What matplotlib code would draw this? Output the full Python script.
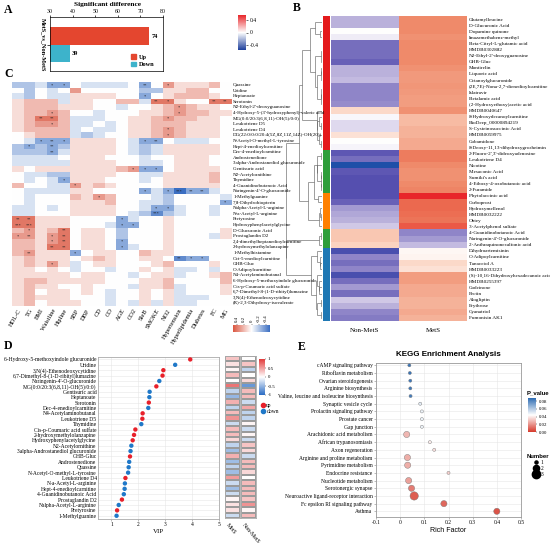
import numpy as np
import matplotlib
matplotlib.use("Agg")
import matplotlib.pyplot as plt
from matplotlib.colors import LinearSegmentedColormap, ListedColormap, Normalize
from matplotlib.cm import ScalarMappable
from matplotlib.lines import Line2D
from matplotlib.patches import Patch
from matplotlib.collections import LineCollection

SERIF = ['Liberation Serif', 'DejaVu Serif']
SANS = ['Liberation Sans', 'DejaVu Sans']
plt.rcParams['font.family'] = SERIF

# ---------------- data ----------------
# Panel A
a_groups = ['Up', 'Down']
a_counts = [74, 39]
a_colors = ['#E4462F', '#3DB3CB']

# Panel B
b_names = ['Glutamylleucine', 'D-Glucuronic Acid', 'Dopamine quinone', 'Imazamethabenz-methyl',
           'Beta-Citryl-L-glutamic acid', 'HMDB0302882', "N2-Ethyl-2'-deoxyguanosine", 'GHB-Gluc',
           'Montirelin', 'Liquoric acid', 'Octanoylglucuronide', '(2E,7E)-Nona-2,7-dienedioylcarnitine',
           'Islatravir', 'Betalamic acid', '(2-Hydroxyethoxy)acetic acid', 'HMDB0040647',
           '8-Hydroxydecanoylcarnitine', 'BioDeep_00000894219', 'S-Cysteinosuccinic Acid', 'HMDB0059975',
           'Cobamidone', '8-Deoxy-11,13-dihydroxygrosheimin', "2-Fluoro-2',3'-dideoxyadenosine",
           'Leukotriene D4', 'Nicotine', 'Mesaconic Acid', "Sumiki's acid", '4-Ethoxy-4-oxobutanoic acid',
           '2-Furamide', 'Phytolaccinic acid', 'Carboprost', 'Hydroxymellenol', 'HMDB0032222', 'Obtey',
           '3-Acetylphenol sulfate', '4-Guanidinobutanoic Acid', "Naringenin-4'-O-glucuronide",
           '2-Anthraquinonesulfonic acid', 'Dihydroartemisinin', 'O-Adipoylcarnitine', 'Tanacetol A',
           'HMDB0033223', '(S)-10,16-Dihydroxyhexadecanoic acid', 'HMDB0255397', 'Codeinone', 'Pectin',
           'Alogliptin', 'Erythrose', 'Cyanatriol', 'Fumonisin AK1']
b_nonmets = [-0.2, -0.2, 0.0, -0.05, -0.35, -0.35, -0.35, -0.38, -0.2, -0.2,
             -0.18, -0.3, -0.3, -0.3, -0.28, 0.1, -0.02, -0.1, -0.1, 0.08,
             0.0, -0.03, -0.4, -0.35, -0.55, -0.4, -0.42, -0.42, -0.42, -0.42,
             -0.38, -0.25, -0.22, -0.2, -0.15, 0.15, 0.15, 0.12, -0.45, -0.3,
             -0.35, -0.3, -0.45, -0.35, -0.25, -0.35, -0.15, -0.2, -0.3, -0.32]
b_mets = [0.3, 0.3, 0.3, 0.28, 0.3, 0.3, 0.3, 0.3, 0.28, 0.26,
          0.26, 0.27, 0.26, 0.25, 0.25, 0.28, 0.18, 0.18, 0.2, 0.2,
          0.22, 0.22, 0.35, 0.35, 0.3, 0.28, 0.28, 0.3, 0.32, 0.55,
          0.42, 0.42, 0.4, 0.38, 0.45, -0.3, -0.25, -0.18, 0.02, 0.03,
          0.1, 0.08, 0.25, 0.25, 0.22, 0.22, 0.2, 0.2, 0.22, 0.2]
b_columns = ['Non-MetS', 'MetS']
b_group_sizes = [22, 7, 6, 3, 12]
b_group_colors = ['#E41A1C', '#2E9E3A', '#FF8000', '#2E9E3A', '#1F78B4']
b_ticks = [-0.4, 0, 0.4]

# Panel C
c_cols = ['HDL-C', 'TG', 'BMI', 'Waistline', 'Hipline', 'SBP', 'DBP', 'CD', 'CO', 'AGE', 'CO2',
          'SleB', 'SMOKE', 'NO2', 'Hypertension', 'Hyperlipidemia', 'Diabetes', 'FC', 'MG']
c_rows = ['Quassine', 'Uridine', 'Heptanoate', 'Serotonin', "N2-Ethyl-2'-deoxyguanosine",
          "4-Hydroxy-5-(3'-hydroxyphenyl)-valeric acid", 'MG(0:0/20:3(6,8,11)-OH(5)/0:0)',
          'Leukotriene D5', 'Leukotriene D4', 'DG(22:0/0:0/20:4(5Z,8Z,11Z,14Z)-OH(20))',
          'N-Acetyl-O-methyl-L-tyrosine', 'Hept-4-enedioylcarnitine', 'Dec-4-enedioylcarnitine',
          'Androstenedione', '3alpha-Androstanediol glucuronide', 'Gentisuric acid',
          'N2-Acetylornithine', 'Thymidine', '4-Guanidinobutanoic Acid', "Naringenin-4'-O-glucuronide",
          '1-Methylguanine', '7,8-Dihydrobiopterin', 'Nalpha-Acetyl-L-arginine', 'N-a-Acetyl-L-arginine',
          'Pretyrosine', 'Hydroxyphenylacetylglycine', 'D-Glucuronic Acid', 'Prostaglandin D2',
          '2,4-dimethylheptanedioylcarnitine', '2-hydroxymethylolanzapine', '1-Methylhistamine',
          'Oct-5-enedioylcarnitine', 'GHB-Gluc', 'O-Adipoylcarnitine', 'N4-Acetylaminobutanal',
          '6-Hydroxy-5-methoxyindole glucuronide', 'Cis-p-Coumaric acid sulfate',
          '6,7-Dimethyl-8-(1-D-ribityl)lumazine', '3,N(4)-Ethenodeoxycytidine',
          '(R)-2,3-Dihydroxy-isovalerate']
c_tenths = [
    [-2, -2, -1, -3, -3, 0, -1, -1, -1, -1, 0, -3, 0, 3, 1, 1, 1, 2, 0],
    [0, -2, 0, -1, 0, 3, 0, 0, 0, 0, 0, -2, -2, 1, 1, 2, 2, 0, 0],
    [-1, -2, 0, -1, -1, 1, 1, 1, 1, 0, 0, -3, 0, 1, 2, 2, 2, 1, 0],
    [1, 2, 2, 2, -1, 1, 1, 0, 0, 2, 2, -1, 4, 4, 1, 0, 0, 4, 4],
    [1, 2, 2, 2, 1, 1, 1, 0, 0, -1, 0, 0, 1, 2, 3, 2, 1, 1, 0],
    [1, 2, 2, 3, 2, 0, 0, -1, 0, 0, 0, 1, 1, 2, 3, 2, 2, 1, 1],
    [1, 2, 4, 4, 2, -1, -1, -1, 0, 0, 1, 1, 2, 3, 2, 2, 1, 1, 0],
    [1, 2, 3, 3, 2, -1, -1, 0, -1, 0, 1, 1, 2, 2, 2, 1, 1, 1, 0],
    [1, 2, 2, 2, 2, -1, 0, -1, -1, 0, 1, 1, 2, 3, 2, 1, 1, 1, 0],
    [0, 1, 2, 2, 2, -1, -2, -1, 0, 0, 1, 1, 2, 3, 2, 1, 1, 1, 0],
    [0, -1, -3, -3, -3, 1, 1, 1, 1, 0, -1, -3, -3, 0, -1, -1, -1, 0, 0],
    [-2, -3, -2, -3, -2, 1, 1, 1, 1, 0, -1, -2, -1, 1, 1, 1, 1, 1, 0],
    [-2, -2, -2, -3, -1, 1, 1, 1, 1, 0, -1, -2, -1, 1, 1, 1, 1, 1, 0],
    [-1, -1, -1, -1, 0, 1, 1, 1, 0, 0, 0, -1, 0, 0, 1, 1, 1, 0, 0],
    [-1, -1, -1, -1, -1, 1, 1, 1, 1, 0, 0, -1, -1, 0, 1, 1, 1, 0, 0],
    [1, 0, 1, 1, 1, 1, 1, 1, 1, 2, 3, -3, -3, 0, 1, 1, 1, 1, 0],
    [0, -1, -1, -2, -2, 1, 1, 1, 1, 0, 0, -1, -1, 1, 1, 1, 1, 2, 0],
    [0, -1, 0, -1, -3, 1, 1, 1, 0, 0, 0, -1, 0, 1, 1, 1, 1, 2, 0],
    [2, 0, 0, -1, -1, 3, 1, 2, 1, 0, 0, 0, 0, 1, 1, 1, 1, 1, 0],
    [0, -1, -1, -1, -1, 1, 1, 0, 0, 0, 0, -3, -1, -3, -5, -3, -3, -1, 0],
    [0, -1, 0, 0, 0, 2, 1, 3, 2, 0, 0, 0, -1, -2, 0, 0, 0, 0, -1],
    [0, -1, 0, 0, 0, 1, 1, 1, 2, 0, 0, -1, -1, -2, 0, 0, 0, 0, -3],
    [-1, -1, 0, -1, 0, 1, 1, 1, 1, 0, 0, -1, -3, -3, -1, 0, 0, -1, 0],
    [-1, -1, 0, 0, 0, 1, 1, 1, 1, 0, -1, -2, -4, -2, -1, 0, 0, -1, 0],
    [4, 4, 1, 1, 1, 0, 0, 0, 0, -3, -1, 0, 0, 1, 0, 0, 0, 0, 0],
    [4, 4, 1, 1, 1, 0, 0, 0, -1, -3, -3, 0, 0, 1, 0, 0, 0, 0, 0],
    [2, 3, 1, 2, 4, 0, 1, 1, 0, -2, 0, 0, 0, 1, 0, 0, 0, 0, 1],
    [3, 3, 1, 3, 4, 0, 1, 1, 0, -2, 0, 0, 0, 1, 0, 0, 0, -1, 1],
    [2, 2, 1, 3, 4, 0, 1, 1, 0, -3, 0, 0, 0, 1, 0, 0, 0, 0, 0],
    [2, 2, 1, 4, 4, 0, 1, 1, 0, -3, -1, 0, 0, 1, 0, 0, 0, 0, 0],
    [2, 3, 1, 1, 1, -3, 0, 1, 1, 0, 0, 2, 1, 1, 0, 0, 0, 0, 0],
    [1, 2, 1, 1, 1, 0, 1, 2, 1, 0, 0, 1, 1, 0, -4, -3, -3, 0, 0],
    [1, 2, 1, 3, 1, -1, 0, 1, 1, 0, 0, 0, 1, 2, 0, 0, 0, 1, 0],
    [1, 1, 0, 1, 0, -1, 0, 0, -1, 0, 0, 1, 0, 1, -1, -1, 0, -1, 0],
    [1, 1, 1, 1, 1, 0, 1, 1, 0, 0, -1, 0, 1, 1, -1, 0, 0, 1, 2],
    [1, 2, 2, 1, 1, 1, 1, 1, 0, 0, 0, 1, 1, 2, 0, 0, 0, 0, 2],
    [1, 2, 1, 1, 0, 0, 1, 0, 0, 0, -1, 1, 1, 2, -1, 0, 0, 0, 1],
    [1, 2, 0, 1, 1, 0, 1, 0, -1, 0, 0, 1, 0, 1, -1, 0, 0, 0, 1],
    [1, 2, 1, 1, 1, 0, 0, 0, -1, 0, 0, 1, 0, 1, -1, -1, -1, 0, 0],
    [1, 2, 0, 1, 1, 1, 0, 0, -1, 0, -1, 1, -1, 1, -1, -1, 0, 0, 0],
]
c_stars = [(1, 4, '*'), (1, 5, '*'), (1, 12, '**'), (1, 14, '*'), (3, 12, '*'),
           (4, 13, '**'), (4, 14, '*'), (4, 18, '**'), (4, 19, '**'),
           (5, 15, '*'), (6, 15, '*'), (6, 4, '*'),
           (7, 3, '**'), (7, 4, '**'), (7, 14, '*'), (8, 4, '*'), (9, 14, '*'), (10, 14, '*'),
           (11, 3, '*'), (11, 4, '**'), (11, 5, '*'), (11, 12, '*'), (11, 13, '**'),
           (12, 2, '*'), (12, 4, '**'), (13, 4, '**'),
           (16, 11, '*'), (16, 12, '*'), (16, 13, '*'), (18, 5, '*'), (19, 6, '*'),
           (20, 12, '*'), (20, 14, '*'), (20, 15, '***'), (20, 16, '**'), (20, 17, '**'),
           (21, 8, '*'), (22, 19, '*'), (23, 13, '*'), (23, 14, '*'), (24, 13, '***'),
           (25, 1, '**'), (25, 2, '**'), (25, 10, '*'),
           (26, 1, '***'), (26, 2, '***'), (26, 10, '*'), (26, 11, '*'),
           (27, 2, '*'), (27, 5, '**'), (28, 1, '*'), (28, 2, '**'), (28, 4, '*'), (28, 5, '**'),
           (29, 4, '*'), (29, 5, '**'), (29, 10, '*'), (30, 4, '**'), (30, 5, '**'), (30, 10, '*'),
           (31, 2, '**'), (31, 6, '*'), (32, 15, '**'), (32, 16, '*'), (32, 17, '*'), (33, 4, '*')]
c_ticks = [0.4, 0.2, 0, -0.2, -0.4]

# Panel D
d_names = ['6-Hydroxy-5-methoxyindole glucuronide', 'Uridine', '3,N(4)-Ethenodeoxycytidine',
           '6,7-Dimethyl-8-(1-D-ribityl)lumazine', "Naringenin-4'-O-glucuronide",
           'MG(0:0/20:3(6,8,11)-OH(5)/0:0)', 'Gentisuric acid', 'Heptanoate', 'Serotonin',
           'Dec-4-enedioylcarnitine', 'N4-Acetylaminobutanal', 'Leukotriene D5', 'Thymidine',
           'Cis-p-Coumaric acid sulfate', '2-hydroxymethylolanzapine', 'Hydroxyphenylacetylglycine',
           'N2-Acetylornithine', '3alpha-Androstanediol glucuronide', 'GHB-Gluc', 'Androstenedione',
           'Quassine', 'N-Acetyl-O-methyl-L-tyrosine', 'Leukotriene D4', 'N-a-Acetyl-L-arginine',
           'Hept-4-enedioylcarnitine', '4-Guanidinobutanoic Acid', 'Prostaglandin D2',
           'Nalpha-Acetyl-L-arginine', 'Pretyrosine', '1-Methylguanine']
d_vip = [3.93, 3.37, 2.93, 2.9, 2.78, 2.67, 2.42, 2.41, 2.39, 2.37, 2.16, 2.15, 2.11, 1.89, 1.84,
         1.79, 1.74, 1.71, 1.69, 1.66, 1.64, 1.62, 1.52, 1.5, 1.49, 1.46, 1.39, 1.27, 1.21, 1.19]
d_dir = ['up', 'down', 'up', 'up', 'down', 'up', 'down', 'down', 'up', 'down', 'up', 'up', 'down',
         'up', 'up', 'up', 'down', 'down', 'up', 'down', 'down', 'down', 'up', 'down', 'down', 'down',
         'up', 'down', 'up', 'down']
d_mets = [0.3, 0.15, 0.05, 0.35, 0.0, 0.7, -0.3, -0.5, 0.4, -0.3, 0.35, 0.55, -0.25, 0.35, 0.35,
          0.2, -0.3, -0.45, 0.4, -0.45, -0.3, -0.45, 0.5, -0.25, -0.45, -0.25, 0.05, 0.15, 0.15, -0.25]
d_nonmets = [0.0, 0.3, -0.3, 0.0, 0.2, -0.7, 0.35, 0.35, -0.25, 0.45, -0.3, -0.3, 0.05, -0.25, 0.05,
             -0.25, 0.3, 0.2, -0.25, 0.35, 0.35, 0.2, 0.0, 0.35, 0.35, 0.35, 0.3, 0.55, 0.05, 0.35]

# Panel E
e_pathways = ['cAMP signaling pathway', 'Riboflavin metabolism', 'Ovarian steroidogenesis',
              'Arginine biosynthesis', 'Valine, leucine and isoleucine biosynthesis',
              'Synaptic vesicle cycle', 'Prolactin signaling pathway', 'Prostate cancer', 'Gap junction',
              'Arachidonic acid metabolism', 'African trypanosomiasis', 'Axon regeneration',
              'Arginine and proline metabolism', 'Pyrimidine metabolism', 'Endocrine resistance',
              'Nucleotide metabolism', 'Serotonergic synapse', 'Neuroactive ligand-receptor interaction',
              'Fc epsilon RI signaling pathway', 'Asthma']
e_rich = [0.038, 0.04, 0.042, 0.042, 0.043, 0.083, 0.09, 0.09, 0.09, 0.027, 0.123, 0.141, 0.03,
          0.031, 0.2, 0.035, 0.047, 0.058, 0.181, 0.4]
e_number = [1, 1, 1, 1, 1, 1, 1, 1, 1, 2, 1, 1, 2, 2, 1, 2, 2, 3, 2, 2]
e_pvalue = [0.085, 0.085, 0.084, 0.084, 0.083, 0.05, 0.048, 0.048, 0.048, 0.028, 0.04, 0.037,
            0.026, 0.026, 0.034, 0.023, 0.015, 0.008, 0.01, 0.006]
e_ticks = [0.0, 0.02, 0.04, 0.06, 0.08]

# ---------------- figure ----------------
W, H = 550, 543
fig = plt.figure(figsize=(5.5, 5.43), dpi=100)


def box(l, t, r, b):
    return [l / W, 1 - b / H, (r - l) / W, (b - t) / H]


def fx(x):
    return x / W


def fy(y):
    return 1 - y / H


for lab, x, y in [('A', 4, 10), ('B', 293, 8), ('C', 4, 74), ('D', 4, 346), ('E', 298, 347)]:
    fig.text(fx(x), fy(y), lab, fontsize=8.5, fontweight='bold', va='center', ha='left')

# ---- Panel A ----
axA = fig.add_axes(box(50, 17, 163, 71))
for y, c, col, lab in zip([1, 0], a_counts, a_colors, a_groups):
    axA.barh(y, c, height=1.0, color=col, label=lab)
    axA.text(c + 0.8, y, str(c), va='center', ha='left', fontsize=4.5, fontweight='bold')
axA.set_xlim(30, 80)
axA.set_ylim(-1.0, 2.086)
axA.xaxis.tick_top()
axA.set_xticks(range(30, 81, 10))
axA.tick_params(axis='x', labelsize=4.2, length=1.5, width=0.5, pad=0.5)
axA.set_yticks([0.5])
axA.set_yticklabels(['MetS_vs_Non-MetS'], rotation=270, va='center', fontsize=4.5, fontweight='bold')
axA.tick_params(axis='y', length=2, width=0.5, pad=1)
for s in axA.spines.values():
    s.set_linewidth(0.5)
fig.text(fx(107), fy(4.5), 'Significant difference', ha='center', va='center', fontsize=5.3,
         fontweight='bold')
axA.legend(handles=[Patch(color=a_colors[0], label='Up'), Patch(color=a_colors[1], label='Down')],
           loc='upper left', bbox_to_anchor=((128 - 50) / 113, (71 - 51) / 54), frameon=False,
           prop={'size': 4.5, 'weight': 'bold'}, handlelength=0.8, handleheight=0.8,
           labelspacing=0.3, borderpad=0, handletextpad=0.5)

# ---- Panel B ----
cmapB = LinearSegmentedColormap.from_list('b', [
    (0.0, '#1F4FA8'), (0.118, '#5650B0'), (0.227, '#8F85C8'), (0.364, '#D0C8E6'),
    (0.5, '#FFFFFF'), (0.609, '#FBD3C0'), (0.773, '#EF8A6A'), (0.882, '#EC6A50'), (1.0, '#E8262A')])
cmapBbar = LinearSegmentedColormap.from_list('bbar', ['#1D3F9C', '#FFFFFF', '#E8262A'])
normB = Normalize(-0.55, 0.55)
b_mat = np.column_stack([b_nonmets, b_mets])
nB = len(b_names)
axB = fig.add_axes(box(331, 16, 467, 321))
axB.imshow(b_mat, aspect='auto', cmap=cmapB, norm=normB, interpolation='nearest')
axB.yaxis.tick_right()
axB.set_yticks(range(nB))
axB.set_yticklabels(b_names, fontsize=3.7)
axB.set_xticks([0, 1])
axB.set_xticklabels(b_columns, fontsize=5)
axB.tick_params(length=0, pad=1.5)
axB.tick_params(axis='x', pad=5)
for s in axB.spines.values():
    s.set_visible(False)

axS = fig.add_axes(box(323, 16, 330, 321))
grp = np.repeat(np.arange(len(b_group_sizes)), b_group_sizes)[:, None]
axS.imshow(grp, aspect='auto', cmap=ListedColormap(b_group_colors), interpolation='nearest',
           vmin=-0.5, vmax=len(b_group_sizes) - 0.5)
axS.set_axis_off()


def adjacent_ward(data):
    clusters = [dict(pos=float(i), h=0.0, vec=np.array(data[i], float), n=1) for i in range(len(data))]
    segs = []
    while len(clusters) > 1:
        d = []
        for i in range(len(clusters) - 1):
            a, b = clusters[i], clusters[i + 1]
            d.append(np.sqrt(2.0 * a['n'] * b['n'] / (a['n'] + b['n'])) * np.linalg.norm(a['vec'] - b['vec']))
        k = int(np.argmin(d))
        a, b = clusters[k], clusters[k + 1]
        h = max(d[k], a['h'], b['h']) + 0.005
        segs += [[(a['h'], a['pos']), (h, a['pos'])], [(b['h'], b['pos']), (h, b['pos'])],
                 [(h, a['pos']), (h, b['pos'])]]
        n = a['n'] + b['n']
        clusters[k:k + 2] = [dict(pos=(a['pos'] + b['pos']) / 2, h=h,
                                  vec=(a['vec'] * a['n'] + b['vec'] * b['n']) / n, n=n)]
    return segs, clusters[0]['h']


segs, hmax = adjacent_ward(b_mat)
axDen = fig.add_axes(box(285, 16, 322, 321))
axDen.add_collection(LineCollection(segs, colors='#555555', linewidths=0.4))
axDen.set_xlim(hmax * 1.02, 0)
axDen.set_ylim(nB - 0.5, -0.5)
axDen.set_axis_off()

caxB = fig.add_axes(box(238, 15, 246, 50))
cbB = fig.colorbar(ScalarMappable(norm=normB, cmap=cmapBbar), cax=caxB, ticks=b_ticks)
cbB.ax.set_yticklabels(['-0.4', '0', '0.4'])
cbB.ax.tick_params(labelsize=4, length=1.5, width=0.4, pad=1)
cbB.outline.set_visible(False)

# ---- Panel C ----
cmapC = LinearSegmentedColormap.from_list('c', ['#3A6EC2', '#FFFFFF', '#DA5640'])
normC = Normalize(-0.5, 0.5)
c_mat = np.array(c_tenths) / 10.0
axC = fig.add_axes(box(12, 81.7, 231, 305.7))
axC.imshow(c_mat, aspect='auto', cmap=cmapC, norm=normC, interpolation='nearest')
axC.yaxis.tick_right()
axC.set_yticks(range(len(c_rows)))
axC.set_yticklabels(c_rows, fontsize=3.6)
axC.set_xticks(range(len(c_cols)))
axC.set_xticklabels(c_cols, fontsize=4.6, rotation=60, ha='right', rotation_mode='anchor')
axC.tick_params(length=0, pad=1.5)
for s in axC.spines.values():
    s.set_visible(False)
for r, c, s in c_stars:
    axC.text(c - 1, r - 1 + 0.1, s, ha='center', va='center', fontsize=3.2, color='#222222')

caxC = fig.add_axes(box(233, 325, 270, 332))
cbC = fig.colorbar(ScalarMappable(norm=normC, cmap=cmapC), cax=caxC, orientation='horizontal',
                   ticks=c_ticks)
caxC.invert_xaxis()
caxC.xaxis.tick_top()
caxC.set_xticklabels([str(t) for t in c_ticks], rotation=90, fontsize=3.5)
caxC.tick_params(length=1, width=0.3, pad=1)
cbC.outline.set_visible(False)

# ---- Panel D ----
nD = len(d_names)
dir_colors = {'up': '#E8202A', 'down': '#1F78C8'}
axD = fig.add_axes(box(98, 357, 219, 519))
axD.scatter(d_vip, range(nD), c=[dir_colors[d] for d in d_dir], s=10, zorder=3, linewidths=0)
axD.set_xlim(0.5, 5)
axD.set_ylim(nD - 0.4, -0.45)
axD.set_yticks(range(nD))
axD.set_yticklabels(d_names, fontsize=4)
axD.set_xticks([1, 2, 3, 4, 5])
axD.tick_params(axis='y', length=0, pad=1)
axD.tick_params(axis='x', labelsize=4, length=1.5, width=0.4, pad=1, color='#888888')
axD.grid(True, color='#E6E6E6', linewidth=0.4)
axD.set_axisbelow(True)
for s in axD.spines.values():
    s.set_color('#AAAAAA')
    s.set_linewidth(0.6)
axD.set_xlabel('VIP', fontsize=5, labelpad=1)

cmapD = LinearSegmentedColormap.from_list('d', ['#2B6CC4', '#FFFFFF', '#E23B3B'])
normD = Normalize(-1, 1)
for vals, (l, r), name in [(d_mets, (225, 239.5), 'MetS'), (d_nonmets, (241, 255.5), 'Non-MetS')]:
    axh = fig.add_axes(box(l, 356, r, 518))
    axh.pcolormesh(np.array(vals)[:, None], cmap=cmapD, norm=normD, edgecolors='#9A9A9A',
                   linewidth=0.3)
    axh.set_ylim(nD, 0)
    axh.set_xticks([])
    axh.set_yticks([])
    for s in axh.spines.values():
        s.set_color('#AAAAAA')
        s.set_linewidth(0.6)
    fig.text(fx((l + r) / 2 - 3), fy(522), name, rotation=-50, ha='left', va='top',
             rotation_mode='anchor', fontsize=4.2)

caxD = fig.add_axes(box(259, 359, 265, 395))
cbD = fig.colorbar(ScalarMappable(norm=normD, cmap=cmapD), cax=caxD, ticks=[-1, -0.5, 0, 0.5, 1])
cbD.ax.set_yticklabels(['-1', '-0.5', '0', '0.5', '1'])
cbD.ax.tick_params(labelsize=3.5, length=1, width=0.3, pad=1)
cbD.outline.set_visible(False)
fig.legend(handles=[Line2D([], [], marker='o', ls='', color=dir_colors['up'], ms=3, label='up'),
                    Line2D([], [], marker='o', ls='', color=dir_colors['down'], ms=3, label='down')],
           loc='upper left', bbox_to_anchor=(fx(257), fy(400)), frameon=False, fontsize=4,
           handletextpad=0.2, labelspacing=0.25, borderpad=0, handlelength=1.0)

# ---- Panel E ----
cmapE = LinearSegmentedColormap.from_list('e', ['#D63A2C', '#FFFFFF', '#2D6CB3'])
normE = Normalize(0.0, 0.088)
size_map = {1: 5, 2: 20, 3: 36}
nE = len(e_pathways)
axE = fig.add_axes(box(376, 362.7, 521, 516.7))
axE.scatter(e_rich, range(nE), s=[size_map[n] for n in e_number], c=e_pvalue, cmap=cmapE, norm=normE,
            edgecolors='#777777', linewidths=0.3, zorder=3)
axE.set_xlim(-0.1, 0.5)
axE.set_ylim(nE - 0.3, -0.34)
axE.set_yticks(range(nE))
axE.set_yticklabels(e_pathways, fontsize=4)
axE.set_xticks([-0.1, 0, 0.1, 0.2, 0.3, 0.4, 0.5])
axE.set_xticklabels(['-0.1', '0', '0.1', '0.2', '0.3', '0.4', '0.5'])
axE.tick_params(axis='y', length=1.5, width=0.4, pad=1, color='#888888')
axE.tick_params(axis='x', labelsize=4, length=1.5, width=0.4, pad=1, color='#888888')
axE.grid(True, color='#E6E6E6', linewidth=0.4)
axE.set_axisbelow(True)
for s in axE.spines.values():
    s.set_color('#999999')
    s.set_linewidth(0.6)
axE.set_xlabel('Rich Factor', fontsize=5, labelpad=1.5, family=SANS)
fig.text(fx(448), fy(354), 'KEGG Enrichment Analysis', ha='center', va='center', fontsize=5.8,
         fontweight='bold', family=SANS)

caxE = fig.add_axes(box(528, 398, 536, 432))
cbE = fig.colorbar(ScalarMappable(norm=normE, cmap=cmapE), cax=caxE, ticks=e_ticks)
cbE.ax.set_yticklabels(['%.2f' % t for t in e_ticks])
cbE.ax.tick_params(labelsize=3.5, length=1, width=0.3, pad=1)
cbE.outline.set_visible(False)
fig.text(fx(527), fy(393), 'P_value', fontsize=4.3, fontweight='bold', family=SANS, va='center')
fig.legend(handles=[Line2D([], [], marker='o', ls='', color='black', ms=np.sqrt(size_map[k]),
                           label=str(k)) for k in (1, 2, 3)],
           title='Number', loc='upper left', bbox_to_anchor=(fx(524), fy(451)), frameon=False,
           fontsize=4, title_fontproperties={'size': 4.3, 'weight': 'bold', 'family': SANS},
           handletextpad=0.3, labelspacing=0.2, borderpad=0, handlelength=1.0)

fig.savefig('out.png', dpi=100)
